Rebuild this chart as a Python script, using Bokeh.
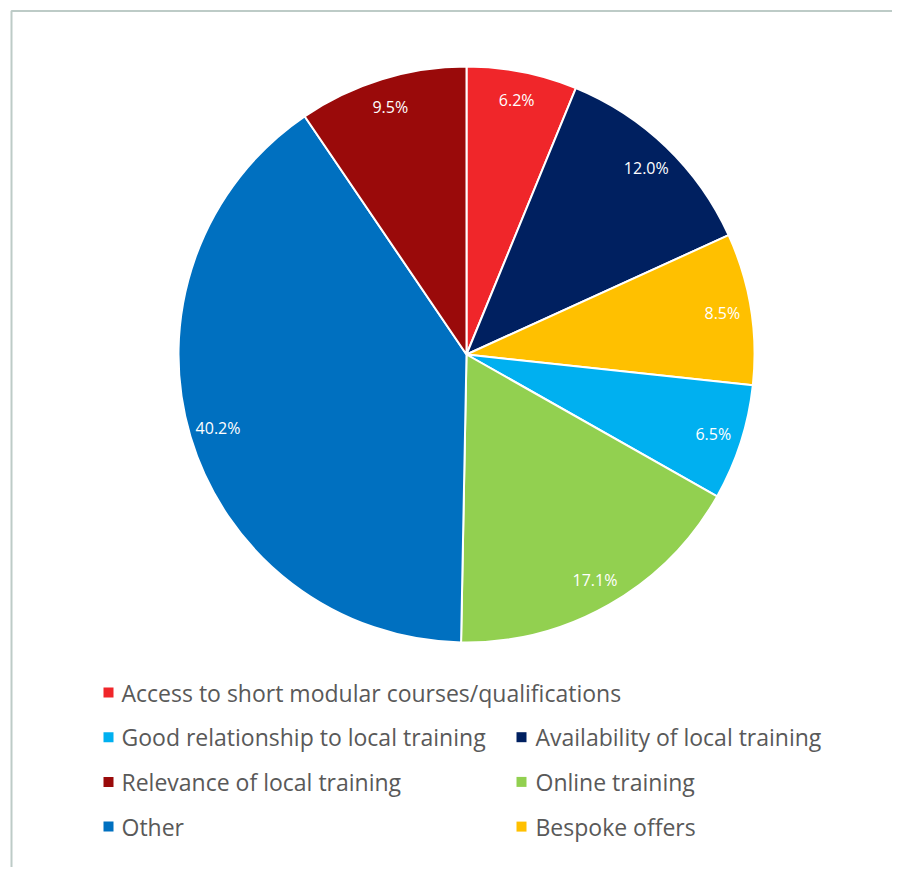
import math
from bokeh.plotting import figure
from bokeh.models import Range1d, ColumnDataSource
from bokeh.core.properties import value
from bokeh.embed import file_html
from bokeh.resources import INLINE

# ---- data ----
categories = [
    "Access to short modular courses/qualifications",
    "Availability of local training",
    "Bespoke offers",
    "Good relationship to local training",
    "Online training",
    "Other",
    "Relevance of local training",
]
shares = [6.2, 12.0, 8.5, 6.5, 17.1, 40.2, 9.5]
colors = ["#F0262A", "#002060", "#FFC000", "#00B0F0", "#92D050", "#0070C0", "#9A0A0A"]
# legend grid (rows x 2 columns) as indices into categories, None = empty cell
legend_grid = [[0, None], [3, 1], [6, 4], [5, 2]]

# ---- layout (screenshot pixel coordinates, y negated) ----
W, H = 892, 867
FONT = "Open Sans"
cx, cy, R = 466.0, -354.0, 288.0

p = figure(width=W, height=H, output_backend="svg", toolbar_location=None,
           x_range=Range1d(0, W), y_range=Range1d(-H, 0),
           min_border=0, outline_line_color=None)
p.axis.visible = False
p.grid.visible = False
p.background_fill_color = "white"
p.border_fill_color = "white"

# chart frame (left and top edges visible)
p.line([11, 11, W + 5], [-(H + 5), -10.5, -10.5], line_color="#bdcbc7", line_width=2)

total = sum(shares)
starts, ends, lx, ly, labels = [], [], [], [], []
cum = 0.0
for s in shares:
    a0 = math.pi / 2 - 2 * math.pi * cum / total
    cum += s
    a1 = math.pi / 2 - 2 * math.pi * cum / total
    starts.append(a0)
    ends.append(a1)
    mid = (a0 + a1) / 2
    lx.append(cx + 0.9 * R * math.cos(mid))
    ly.append(cy + 0.9 * R * math.sin(mid))
    labels.append(f"{s:.1f}%")

src = ColumnDataSource(dict(start=starts, end=ends, color=colors, lx=lx, ly=ly, label=labels))
p.wedge(x=cx, y=cy, radius=R, start_angle="start", end_angle="end", direction="clock",
        fill_color="color", line_color="white", line_width=2, source=src)
p.text(x="lx", y="ly", text="label", source=src, text_color="white",
       text_font=value(FONT), text_font_size="16px", text_align="center",
       text_baseline="middle")

# ---- legend ----
col_marker_x = [108, 521]
col_text_x = [121, 535]
row_y0, row_dy = -692, -44.7
mx, my, mc, tx, ty, tt = [], [], [], [], [], []
for r, row in enumerate(legend_grid):
    for c, idx in enumerate(row):
        if idx is None:
            continue
        y = row_y0 + r * row_dy
        mx.append(col_marker_x[c]); my.append(y); mc.append(colors[idx])
        tx.append(col_text_x[c]); ty.append(y); tt.append(categories[idx])

p.rect(x=mx, y=my, width=10, height=10, fill_color=mc, line_color=None)
p.text(x=tx, y=ty, text=tt, text_color="#595959", text_font=value(FONT),
       text_font_size="23px", text_align="left", text_baseline="middle")

open("out.html", "w").write(file_html(p, INLINE))
